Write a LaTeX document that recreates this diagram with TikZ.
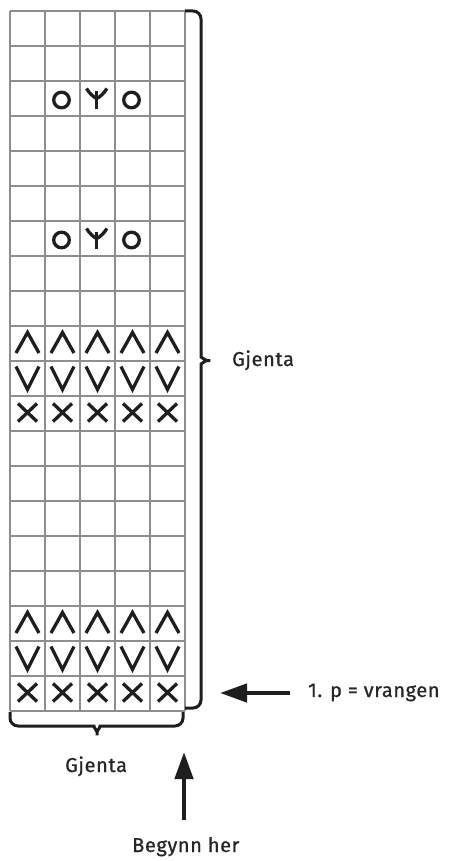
\documentclass[tikz,border=0pt]{standalone}
\usepackage{fontspec}
\setmainfont{Fira Sans}
\newfontfamily\lblfont{Fira Sans}[LetterSpace=3,FakeBold=0.8]
\usetikzlibrary{arrows.meta}
\definecolor{ink}{HTML}{1E1E1E}
\definecolor{textink}{HTML}{262626}
\definecolor{gridgray}{HTML}{8E8E8E}
\begin{document}
\begin{tikzpicture}[x=1pt,y=1pt,
  gridline/.style={draw=gridgray, line width=1.1pt},
  sym/.style={line width=3.3pt, draw=ink},
  bracestyle/.style={line width=3pt, rounded corners=8pt, draw=ink},
  bigarrow/.style={draw=ink, fill=ink, line width=4.5pt, -{Triangle[length=27pt,width=18pt]}},
  lbl/.style={font=\lblfont\fontsize{20}{24}\selectfont, inner sep=0pt, anchor=base west, text=textink},
  upsym/.pic={\draw[sym] (-11.5,-9.5) -- (0,11) -- (11.5,-9.5);},
  downsym/.pic={\draw[sym] (-11.5,12) -- (0,-11) -- (11.5,12);},
  crosssym/.pic={\draw[sym] (-9.5,-8) -- (9.5,10) (-9.5,10) -- (9.5,-8);},
  ringsym/.pic={\draw[sym] (-1,-1.5) circle (7.8);},
  forksym/.pic={\draw[sym] (-0.8,7) -- (-0.8,-10.5);
    \draw[sym] (-11,10) .. controls (-8,5) and (-4,1.5) .. (-0.8,0) .. controls (2.4,1.5) and (6.4,5) .. (9.4,10);}
]
\useasboundingbox (0,0) rectangle (448,-861);
% grid
\foreach \i in {0,...,5} \draw[gridline] (10+35*\i,-11) -- (10+35*\i,-711);
\foreach \j in {0,...,20} \draw[gridline] (10,-11-35*\j) -- (185,-11-35*\j);
% symbols
\foreach \r in {9,17} \foreach \c in {0,...,4} \pic at (27.5+35*\c,-28.5-35*\r) {upsym};
\foreach \r in {10,18} \foreach \c in {0,...,4} \pic at (27.5+35*\c,-28.5-35*\r) {downsym};
\foreach \r in {11,19} \foreach \c in {0,...,4} \pic at (27.5+35*\c,-28.5-35*\r) {crosssym};
\foreach \r in {2,6} {
  \pic at (62.5,-28.5-35*\r) {ringsym};
  \pic at (97.5,-28.5-35*\r) {forksym};
  \pic at (132.5,-28.5-35*\r) {ringsym};
}
% braces
\draw[bracestyle] (185,-11) -- (201,-11) -- (201,-349)
  .. controls (201,-357) and (206,-360.5) .. (215,-360.5)
  .. controls (206,-360.5) and (201,-364) .. (201,-372) -- (201,-708) -- (185,-708);
\draw[bracestyle] (10,-712) -- (10,-726) -- (86,-726)
  .. controls (93,-726) and (97,-731) .. (97,-740)
  .. controls (97,-731) and (101,-726) .. (108,-726) -- (183,-726) -- (183,-712);
% labels
\node[lbl] (gjR) at (232,-366) {Gjenta};
\node[lbl] (gjB) at (65,-772) {Gjenta};
\node[lbl] (vr) at (308,-697) {1. p = vrangen};
\node[lbl] (beg) at (132,-852) {Begynn her};
% arrows
\coordinate (tailL) at (290,-693);
\coordinate (tipL) at (220,-693);
\coordinate (tailU) at (184,-820);
\coordinate (tipU) at (184,-752);
\draw[bigarrow] (tailL) -- (tipL);
\draw[bigarrow] (tailU) -- (tipU);
\end{tikzpicture}
\end{document}
